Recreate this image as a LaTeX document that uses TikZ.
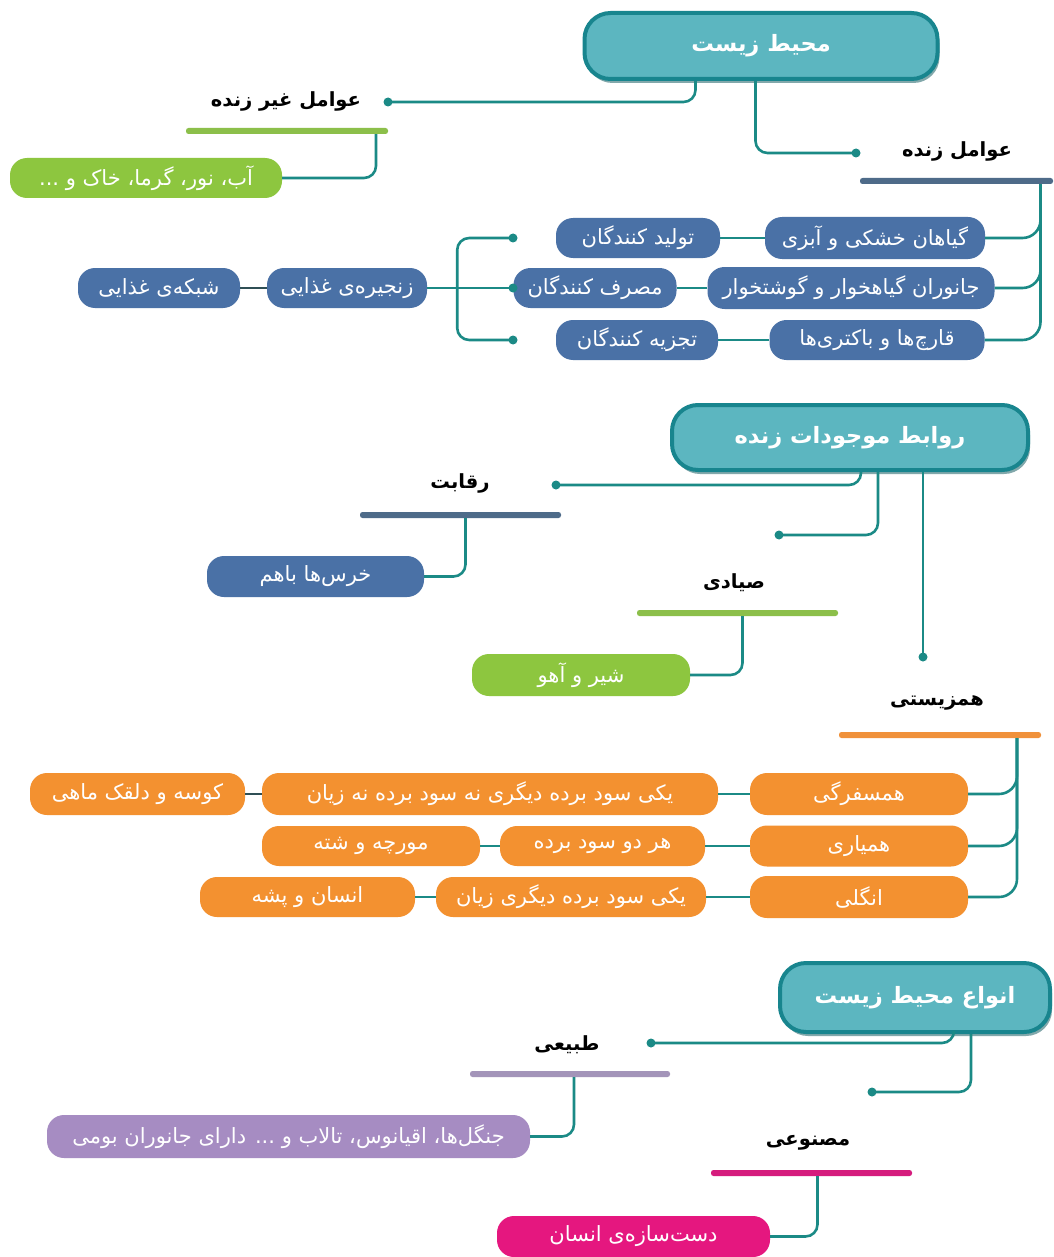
\documentclass[tikz,border=0pt]{standalone}
\usepackage{fontspec}
\usetikzlibrary{shadows}
\newfontfamily\arabicfont[Script=Arabic]{DejaVu Sans}
\TeXXeTstate=1
\newcommand{\fatxt}[1]{{\arabicfont\beginR #1\endR}}
\definecolor{tealc}{HTML}{1B8A86}
\definecolor{rootfill}{HTML}{5CB6C0}
\definecolor{rootdark}{HTML}{18858E}
\definecolor{rootshadow}{HTML}{2F6F74}
\definecolor{bluec}{HTML}{4A71A6}
\definecolor{greenc}{HTML}{8DC63F}
\definecolor{greenbar}{HTML}{8CBF4A}
\definecolor{slatebar}{HTML}{4E6B89}
\definecolor{orangec}{HTML}{F39130}
\definecolor{orangebar}{HTML}{F0913A}
\definecolor{purplec}{HTML}{A68CC2}
\definecolor{purplebar}{HTML}{A394B9}
\definecolor{magentac}{HTML}{E5177F}
\definecolor{magentabar}{HTML}{D51C7D}
\definecolor{darkconn}{HTML}{2F4F55}
\begin{document}
\begin{tikzpicture}[x=1pt,y=-1pt,
  conn/.style={draw=tealc, line width=2.6pt, rounded corners=12pt},
  rootbox/.style={draw=rootdark, line width=4pt, fill=rootfill, rounded corners=26pt,
    text=white, font=\fontsize{22.5}{26}\selectfont\bfseries, inner sep=0pt,
    drop shadow={shadow xshift=2pt, shadow yshift=-4pt, fill=rootshadow, opacity=0.6}},
  mbox/.style={rounded corners=17pt, inner sep=0pt, text=white, font=\fontsize{21}{24}\selectfont},
  lab/.style={text=black, font=\fontsize{19.5}{23}\selectfont\bfseries, inner sep=0pt},
  bar/.style={rounded corners=2.5pt, minimum height=6pt, inner sep=0pt},
  dotc/.style={fill=tealc}]
\useasboundingbox (0,0) rectangle (1053,1257);
\fill[white] (0,0) rectangle (1053,1257);

% ---------------- Section 1
\node[rootbox, minimum width=353pt, minimum height=66pt] (root1) at (761,46) {\fatxt{محیط زیست}};
\node[lab] (l1) at (286,101) {\fatxt{عوامل غیر زنده}};
\node[bar, fill=greenbar, minimum width=202pt] (b1) at (287,131) {};
\node[mbox, fill=greenc, minimum width=272pt, minimum height=40pt] (g1) at (146,178) {\fatxt{آب، نور، گرما، خاک و ...}};
\node[lab] (l2) at (957,151) {\fatxt{عوامل زنده}};
\node[bar, fill=slatebar, minimum width=193pt] (b2) at (956.5,181) {};

\node[mbox, fill=bluec, minimum width=220pt, minimum height=42pt] (bb1) at (875,238) {\fatxt{گیاهان خشکی و آبزی}};
\node[mbox, fill=bluec, minimum width=287pt, minimum height=42pt] (bb2) at (851,288) {\fatxt{جانوران گیاهخوار و گوشتخوار}};
\node[mbox, fill=bluec, minimum width=215pt, minimum height=40pt] (bb3) at (877,340) {\fatxt{قارچ‌ها و باکتری‌ها}};
\node[mbox, fill=bluec, minimum width=164pt, minimum height=40pt] (p1) at (638,238) {\fatxt{تولید کنندگان}};
\node[mbox, fill=bluec, minimum width=163pt, minimum height=40pt] (p2) at (595,288) {\fatxt{مصرف کنندگان}};
\node[mbox, fill=bluec, minimum width=162pt, minimum height=40pt] (p3) at (637,340) {\fatxt{تجزیه کنندگان}};
\node[mbox, fill=bluec, minimum width=160pt, minimum height=40pt] (z1) at (347,288) {\fatxt{زنجیره‌ی غذایی}};
\node[mbox, fill=bluec, minimum width=162pt, minimum height=40pt] (z2) at (159,288) {\fatxt{شبکه‌ی غذایی}};

\coordinate (d1) at (388,102);
\coordinate (d2) at (856,153);
\draw[conn] ([xshift=113pt]root1.south west) |- (d1);
\draw[conn] ([xshift=173pt]root1.south west) |- (d2);
\fill[dotc] (d1) circle[radius=4.5pt];
\fill[dotc] (d2) circle[radius=4.5pt];
\draw[conn] ([xshift=89pt]b1.south) |- (g1.east);
\draw[conn, rounded corners=18pt] ([xshift=84pt]b2.south) |- (bb1.east);
\draw[conn, rounded corners=18pt] ([xshift=84pt]b2.south) |- (bb2.east);
\draw[conn, rounded corners=18pt] ([xshift=84pt]b2.south) |- (bb3.east);
\draw[conn] (bb1.west) -- (p1.east);
\draw[conn] (bb2.west) -- (p2.east);
\draw[conn] (bb3.west) -- (p3.east);
\coordinate (dp1) at (513,238);
\coordinate (dp2) at (513,288);
\coordinate (dp3) at (513,340);
\coordinate (br) at ([xshift=30pt]z1.east);
\draw[conn] (z1.east) -- (dp2);
\draw[conn] (br) |- (dp1);
\draw[conn] (br) |- (dp3);
\fill[dotc] (dp1) circle[radius=4.5pt];
\fill[dotc] (dp2) circle[radius=4.5pt];
\fill[dotc] (dp3) circle[radius=4.5pt];
\draw[conn, draw=darkconn] (z2.east) -- (z1.west);

% ---------------- Section 2
\node[rootbox, minimum width=356pt, minimum height=65pt] (root2) at (850,437.5) {\fatxt{روابط موجودات زنده}};
\node[lab] (l3) at (460,483) {\fatxt{رقابت}};
\node[bar, fill=slatebar, minimum width=201pt] (b3) at (460.5,515) {};
\node[mbox, fill=bluec, minimum width=217pt, minimum height=41pt] (k1) at (315.5,576.5) {\fatxt{خرس‌ها باهم}};
\node[lab] (l4) at (734,583) {\fatxt{صیادی}};
\node[bar, fill=greenbar, minimum width=201pt] (b4) at (737.5,613) {};
\node[mbox, fill=greenc, minimum width=218pt, minimum height=42pt] (s1) at (581,675) {\fatxt{شیر و آهو}};
\node[lab] (l5) at (937,703) {\fatxt{همزیستی}};
\node[bar, fill=orangebar, minimum width=202pt] (b5) at (940,735) {};

\node[mbox, fill=orangec, minimum width=218pt, minimum height=42pt] (o1) at (859,794) {\fatxt{همسفرگی}};
\node[mbox, fill=orangec, minimum width=218pt, minimum height=41pt] (o2) at (859,846) {\fatxt{همیاری}};
\node[mbox, fill=orangec, minimum width=218pt, minimum height=42pt] (o3) at (859,897) {\fatxt{انگلی}};
\node[mbox, fill=orangec, minimum width=456pt, minimum height=42pt] (o4) at (490,794) {\fatxt{یکی سود برده دیگری نه سود برده نه زیان}};
\node[mbox, fill=orangec, minimum width=215pt, minimum height=42pt] (o5) at (137.5,794) {\fatxt{کوسه و دلقک ماهی}};
\node[mbox, fill=orangec, minimum width=205pt, minimum height=40pt] (o6) at (602.5,846) {\fatxt{هر دو سود برده}};
\node[mbox, fill=orangec, minimum width=218pt, minimum height=40pt] (o7) at (371,846) {\fatxt{مورچه و شته}};
\node[mbox, fill=orangec, minimum width=270pt, minimum height=40pt] (o8) at (571,897) {\fatxt{یکی سود برده دیگری زیان}};
\node[mbox, fill=orangec, minimum width=215pt, minimum height=40pt] (o9) at (307.5,897) {\fatxt{انسان و پشه}};

\coordinate (d3) at (556,485);
\coordinate (d4) at (779,535);
\coordinate (d5) at (923,657);
\draw[conn] ([xshift=191pt]root2.south west) |- (d3);
\draw[conn] ([xshift=208pt]root2.south west) |- (d4);
\draw[conn] (root2.south west -| d5) -- (d5);
\fill[dotc] (d3) circle[radius=4.5pt];
\fill[dotc] (d4) circle[radius=4.5pt];
\fill[dotc] (d5) circle[radius=4.5pt];
\draw[conn] ([xshift=5pt]b3.south) |- (k1.east);
\draw[conn] ([xshift=5pt]b4.south) |- (s1.east);
\draw[conn, rounded corners=18pt] ([xshift=77pt]b5.south) |- (o1.east);
\draw[conn, rounded corners=18pt] ([xshift=77pt]b5.south) |- (o2.east);
\draw[conn, rounded corners=18pt] ([xshift=77pt]b5.south) |- (o3.east);
\draw[conn] (o1.west) -- (o4.east);
\draw[conn, draw=darkconn] (o4.west) -- (o5.east);
\draw[conn] (o2.west) -- (o6.east);
\draw[conn] (o6.west) -- (o7.east);
\draw[conn] (o3.west) -- (o8.east);
\draw[conn] (o8.west) -- (o9.east);

% ---------------- Section 3
\node[rootbox, minimum width=270pt, minimum height=69pt] (root3) at (915,997.5) {\fatxt{انواع محیط زیست}};
\node[lab] (l6) at (567,1045) {\fatxt{طبیعی}};
\node[bar, fill=purplebar, minimum width=200pt] (b6) at (570,1074) {};
\node[mbox, fill=purplec, minimum width=483pt, minimum height=43pt] (t1) at (288.5,1136.5) {\fatxt{جنگل‌ها، اقیانوس، تالاب و ... دارای جانوران بومی}};
\node[lab] (l7) at (808,1143) {\fatxt{مصنوعی}};
\node[bar, fill=magentabar, minimum width=201pt] (b7) at (811.5,1173) {};
\node[mbox, fill=magentac, minimum width=273pt, minimum height=41pt] (m1) at (633.5,1236.5) {\fatxt{دست‌سازه‌ی انسان}};

\coordinate (d6) at (651,1043);
\coordinate (d7) at (872,1092);
\draw[conn] ([xshift=176pt]root3.south west) |- (d6);
\draw[conn] ([xshift=193pt]root3.south west) |- (d7);
\fill[dotc] (d6) circle[radius=4.5pt];
\fill[dotc] (d7) circle[radius=4.5pt];
\draw[conn] ([xshift=4pt]b6.south) |- (t1.east);
\draw[conn] ([xshift=6pt]b7.south) |- (m1.east);
\end{tikzpicture}
\end{document}
